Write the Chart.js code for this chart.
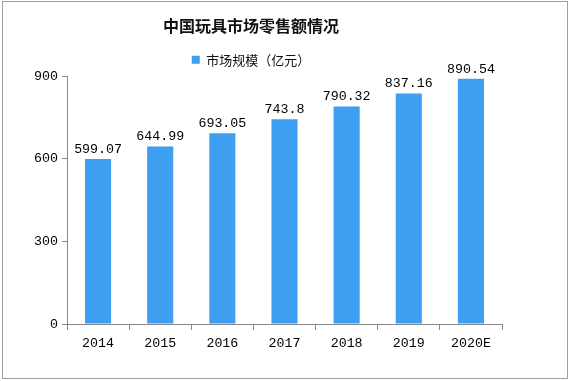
<!DOCTYPE html>
<html><head><meta charset="utf-8">
<script src="https://cdn.jsdelivr.net/npm/chart.js@4/dist/chart.umd.min.js"></script>
<style>html,body{margin:0;padding:0;background:#fff}#wrap{width:570px;height:381px;position:relative}</style>
</head><body><div id="wrap"><canvas id="c" width="570" height="381"></canvas></div>
<script>
const categories = ['2014','2015','2016','2017','2018','2019','2020E'];
const marketSize = [599.07, 644.99, 693.05, 743.8, 790.32, 837.16, 890.54];
const yTicks = [0, 300, 600, 900];
const seriesName = '市场规模（亿元）';
const titleText = '中国玩具市场零售额情况';

const monoFont = '"Liberation Mono", "DejaVu Sans Mono", monospace';
const axisColor = '#888888';

const framePlugin = {
  id: 'frame',
  afterDraw(chart) {
    const ctx = chart.ctx;
    ctx.save();
    ctx.strokeStyle = '#a0a0a0';
    ctx.lineWidth = 1;
    ctx.strokeRect(2.5, 1.5, 565, 377);
    ctx.restore();
  }
};
const labelPlugin = {
  id: 'barLabels',
  afterDatasetsDraw(chart) {
    const ctx = chart.ctx;
    const meta = chart.getDatasetMeta(0);
    ctx.save();
    ctx.font = '13.3px ' + monoFont;
    ctx.fillStyle = '#000';
    ctx.textAlign = 'center';
    ctx.textBaseline = 'bottom';
    meta.data.forEach((bar, i) => {
      ctx.fillText(String(chart.data.datasets[0].data[i]), bar.x, bar.y - 3);
    });
    ctx.restore();
  }
};

new Chart(document.getElementById('c'), {
  type: 'bar',
  data: {
    labels: categories,
    datasets: [{
      label: seriesName,
      data: marketSize,
      backgroundColor: '#3d9ef2',
      categoryPercentage: 1,
      barPercentage: 0.42
    }]
  },
  options: {
    responsive: false,
    animation: false,
    devicePixelRatio: 1,
    layout: { padding: { left: 0, right: 68, top: 12, bottom: 25 } },
    plugins: {
      title: {
        display: true, text: titleText,
        font: { family: '"Noto Sans CJK SC"', size: 16, weight: 'bold' },
        color: '#111', padding: { top: 4, bottom: 9 }
      },
      legend: {
        display: true,
        labels: {
          boxWidth: 8, boxHeight: 8, color: '#111',
          font: { family: '"Noto Sans CJK SC"', size: 13 },
          padding: 9
        }
      },
      tooltip: { enabled: false }
    },
    scales: {
      x: {
        grid: { display: true, offset: true, drawOnChartArea: false, drawTicks: true, tickLength: 6, color: axisColor },
        border: { display: true, color: axisColor },
        ticks: { color: '#000', font: { family: monoFont, size: 13.3 }, padding: 5 }
      },
      y: {
        min: 0, max: 900,
        afterFit(s) { s.width = 67; },
        afterBuildTicks(s) { s.ticks = yTicks.map(v => ({ value: v })); },
        grid: { display: true, drawOnChartArea: false, drawTicks: true, tickLength: 5, color: axisColor },
        border: { display: true, color: axisColor },
        ticks: { color: '#000', font: { family: monoFont, size: 13.3 }, padding: 4 }
      }
    }
  },
  plugins: [framePlugin, labelPlugin]
});
</script></body></html>
